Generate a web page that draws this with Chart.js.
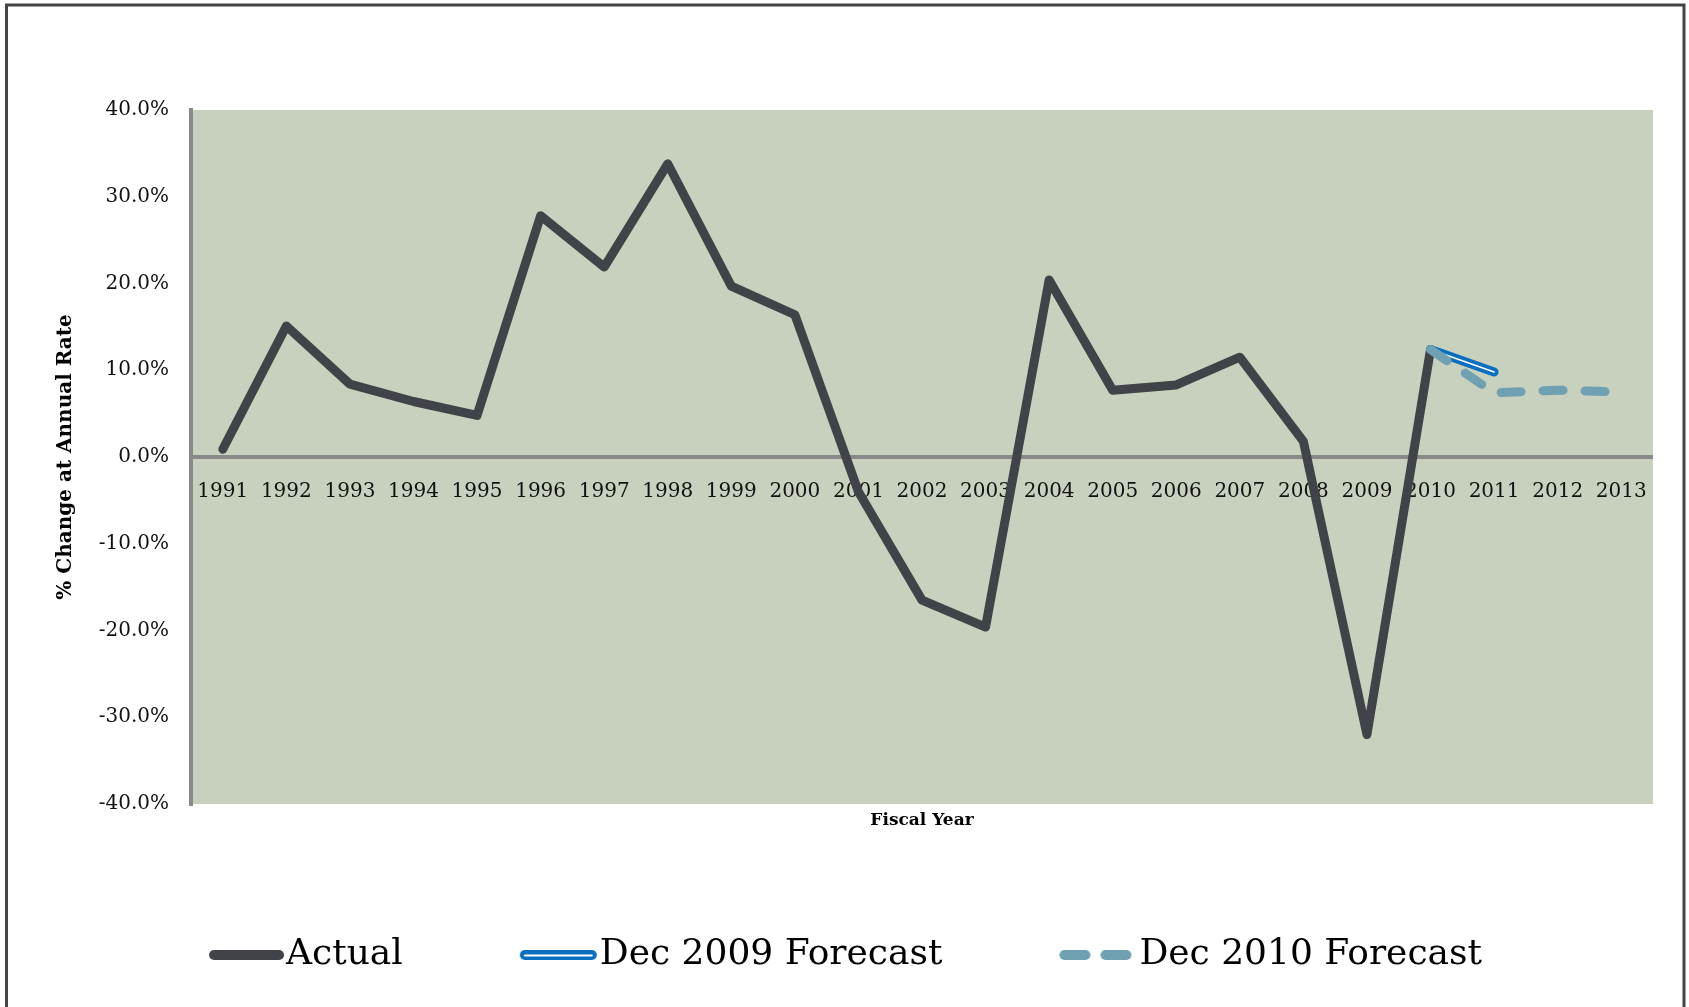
<!DOCTYPE html>
<html>
<head>
<meta charset="utf-8">
<title>Annual Rate of Change by Fiscal Year</title>
<script src="https://cdn.jsdelivr.net/npm/chart.js@4.4.1/dist/chart.umd.min.js"></script>
<style>
  html, body { margin: 0; padding: 0; background: #ffffff; }
  #wrap { position: absolute; left: 0; top: 0; width: 1689px; height: 1007px; }
  canvas { display: block; }
</style>
</head>
<body>
<div id="wrap"><canvas id="chart" width="1689" height="1007"></canvas></div>
<script>
// Fiscal years on the category axis
const years = ['1991', '1992', '1993', '1994', '1995', '1996', '1997', '1998', '1999', '2000',
               '2001', '2002', '2003', '2004', '2005', '2006', '2007', '2008', '2009', '2010',
               '2011', '2012', '2013'];

// % change at annual rate
const actual = [0.9, 15.1, 8.4, 6.4, 4.8, 27.8, 21.9, 33.8, 19.7, 16.4,
                -4.0, -16.5, -19.6, 20.4, 7.7, 8.3, 11.5, 1.8, -32.0, 12.4,
                null, null, null];
const forecastDec2009 = [null, null, null, null, null, null, null, null, null, null,
                         null, null, null, null, null, null, null, null, null, 12.4,
                         9.8, null, null];
const forecastDec2010 = [null, null, null, null, null, null, null, null, null, null,
                         null, null, null, null, null, null, null, null, null, 12.4,
                         7.4, 7.7, 7.5];

// Y-axis tick values (percent)
const yTickValues = [-40, -30, -20, -10, 0, 10, 20, 30, 40];

const COLORS = {
  actual: '#404348',
  dec2009: '#0A6FBF',
  dec2010: '#6FA1B2',
  plot: '#C8D1BE',
  axis: '#898989',
  frame: '#444444'
};

Chart.defaults.font.family = "'DejaVu Serif', serif";
Chart.defaults.color = '#111111';

// Legend swatch geometry: the swatch image ends just before the label text.
const LEGEND_FONT = 36;
const LEGEND_BOX = 46;
const SWATCH_W = LEGEND_BOX + LEGEND_FONT, SWATCH_H = 20;
function makeSwatch(draw) {
  const c = document.createElement('canvas');
  c.width = SWATCH_W; c.height = SWATCH_H;
  const g = c.getContext('2d');
  g.lineCap = 'round';
  draw(g);
  return c;
}
function seg(g, x1, x2, y, w, color) {
  g.beginPath();
  g.strokeStyle = color;
  g.lineWidth = w;
  g.moveTo(x1, y); g.lineTo(x2, y);
  g.stroke();
}
const legendIcons = {
  0: makeSwatch(g => {
    const r = SWATCH_W - 2, l = r - 75;
    seg(g, l + 5, r - 5, 10, 10, COLORS.actual);
  }),
  1: makeSwatch(g => {
    const r = SWATCH_W - 3, l = r - 77;
    seg(g, l + 5, r - 5, 10, 10, COLORS.dec2009);
    seg(g, l + 5, r - 5, 10.5, 2, '#ffffff');
  }),
  3: makeSwatch(g => {
    const r = SWATCH_W - 8, l = r - 72;
    seg(g, l + 5, l + 26, 10, 10, COLORS.dec2010);
    seg(g, l + 46, r - 5, 10, 10, COLORS.dec2010);
  })
};

// Page frame and shaded plot area
const backdrop = {
  id: 'backdrop',
  beforeDraw(chart) {
    const {ctx, chartArea: a, width, height} = chart;
    ctx.save();
    ctx.fillStyle = '#ffffff';
    ctx.fillRect(0, 0, width, height);
    ctx.fillStyle = COLORS.plot;
    ctx.fillRect(a.left, a.top, a.right - a.left, a.bottom - a.top);
    ctx.strokeStyle = COLORS.frame;
    ctx.lineWidth = 3;
    ctx.beginPath();
    ctx.moveTo(6.5, height);
    ctx.lineTo(6.5, 5);
    ctx.lineTo(1684, 5);
    ctx.lineTo(1684, height);
    ctx.stroke();
    ctx.restore();
  }
};

const lineStyle = {
  pointRadius: 0,
  pointHoverRadius: 0,
  fill: false,
  tension: 0,
  borderCapStyle: 'round',
  borderJoinStyle: 'round',
  spanGaps: false
};

new Chart(document.getElementById('chart'), {
  type: 'line',
  data: {
    labels: years,
    datasets: [
      Object.assign({}, lineStyle, {
        label: 'Actual', data: actual,
        borderColor: COLORS.actual, backgroundColor: COLORS.actual,
        borderWidth: 9, order: 4
      }),
      Object.assign({}, lineStyle, {
        label: 'Dec 2009 Forecast', data: forecastDec2009,
        borderColor: COLORS.dec2009, backgroundColor: COLORS.dec2009,
        borderWidth: 9, order: 3
      }),
      Object.assign({}, lineStyle, {
        label: 'Dec 2009 Forecast inner', data: forecastDec2009,
        borderColor: '#ffffff', backgroundColor: '#ffffff',
        borderWidth: 1.6, order: 2
      }),
      Object.assign({}, lineStyle, {
        label: 'Dec 2010 Forecast', data: forecastDec2010,
        borderColor: COLORS.dec2010, backgroundColor: COLORS.dec2010,
        borderWidth: 9, borderDash: [20, 22], order: 1
      })
    ]
  },
  options: {
    responsive: false,
    devicePixelRatio: 1,
    animation: false,
    events: [],
    layout: { padding: { left: 51, right: 36, top: 110, bottom: 24 } },
    scales: {
      x: {
        type: 'category',
        position: { y: 0 },
        offset: true,
        grid: { display: false, drawTicks: false },
        border: { display: false },
        ticks: {
          autoSkip: false, maxRotation: 0, minRotation: 0,
          padding: 23, color: '#111111',
          font: { size: 20 }
        },
        title: {
          display: true, text: 'Fiscal Year', color: '#000000',
          font: { size: 17, weight: 'bold' },
          padding: { top: 283, bottom: 0 }
        }
      },
      y: {
        position: 'left',
        min: -40, max: 40,
        afterBuildTicks(scale) { scale.ticks = yTickValues.map(v => ({ value: v })); },
        afterFit(scale) { scale.width = 140; },
        grid: {
          drawTicks: false,
          lineWidth: 4,
          color: c => (c.tick && c.tick.value === 0) ? COLORS.axis : 'rgba(0,0,0,0)'
        },
        border: { display: true, color: COLORS.axis, width: 4 },
        ticks: {
          padding: 22, color: '#111111',
          font: { size: 20 },
          callback: v => v.toFixed(1) + '%'
        },
        title: {
          display: true, text: '% Change at Annual Rate', color: '#000000',
          font: { size: 20, weight: 'bold' },
          padding: { top: 3, bottom: 0 }
        }
      }
    },
    plugins: {
      tooltip: { enabled: false },
      legend: {
        position: 'bottom',
        align: 'center',
        labels: {
          usePointStyle: true,
          pointStyleWidth: LEGEND_BOX,
          padding: 133,
          color: '#000000',
          font: { size: LEGEND_FONT },
          generateLabels(chart) {
            const items = Chart.defaults.plugins.legend.labels.generateLabels(chart);
            return items
              .filter(it => legendIcons[it.datasetIndex])
              .sort((a, b) => a.datasetIndex - b.datasetIndex)
              .map(it => Object.assign(it, {
                pointStyle: legendIcons[it.datasetIndex],
                fontColor: '#000000'
              }));
          }
        }
      }
    }
  },
  plugins: [backdrop]
});
</script>
</body>
</html>
